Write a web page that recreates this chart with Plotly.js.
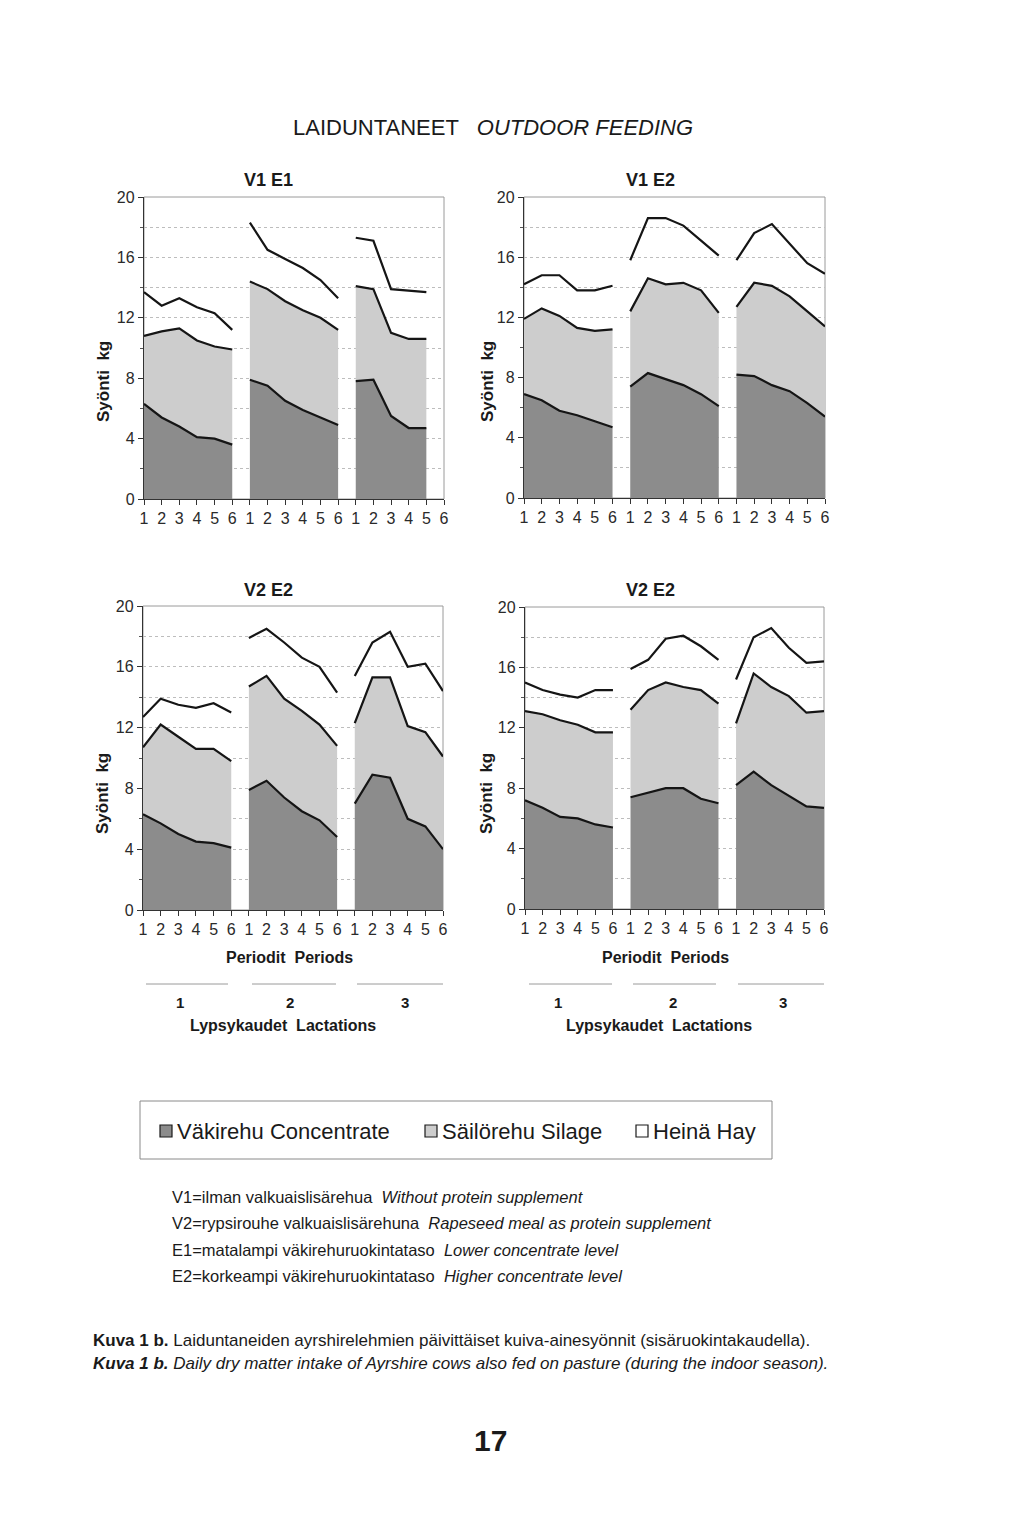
<!DOCTYPE html>
<html>
<head>
<meta charset="utf-8">
<script src="https://cdn.plot.ly/plotly-3.0.1.min.js"></script>
<style>
  html, body { margin: 0; padding: 0; background: #ffffff; }
  #chart { width: 1024px; height: 1515px; }
</style>
</head>
<body>
<div id="chart"></div>
<script>
// ---------------- DATA ----------------
// x axis: 3 lactations x 6 periods
const periodLabels = ['1','2','3','4','5','6','1','2','3','4','5','6','1','2','3','4','5','6'];
const lactationLabels = ['1', '2', '3'];
const panelTitles = ['V1 E1', 'V1 E2', 'V2 E2', 'V2 E2'];
const seriesNames = ['Väkirehu Concentrate', 'Säilörehu Silage', 'Heinä Hay'];

// Daily dry matter intake, kg (component amounts, stacked: concentrate + silage + hay)
const v1e1_concentrate = [6.3, 5.4, 4.8, 4.1, 4.0, 3.6,  7.9, 7.5, 6.5, 5.9, 5.4, 4.9,  7.8, 7.9, 5.5, 4.7, 4.7, null];
const v1e1_silage      = [4.5, 5.7, 6.5, 6.4, 6.1, 6.3,  6.5, 6.4, 6.6, 6.6, 6.6, 6.3,  6.3, 6.0, 5.5, 5.9, 5.9, null];
const v1e1_hay         = [2.9, 1.7, 2.0, 2.2, 2.2, 1.3,  3.9, 2.6, 2.8, 2.8, 2.5, 2.1,  3.2, 3.2, 2.9, 3.2, 3.1, null];

const v1e2_concentrate = [6.9, 6.5, 5.8, 5.5, 5.1, 4.7,  7.4, 8.3, 7.9, 7.5, 6.9, 6.1,  8.2, 8.1, 7.5, 7.1, 6.3, 5.4];
const v1e2_silage      = [5.0, 6.1, 6.3, 5.8, 6.0, 6.5,  5.0, 6.3, 6.3, 6.8, 6.9, 6.2,  4.5, 6.2, 6.6, 6.3, 6.1, 6.0];
const v1e2_hay         = [2.3, 2.2, 2.7, 2.5, 2.7, 2.9,  3.4, 4.0, 4.4, 3.8, 3.3, 3.8,  3.1, 3.3, 4.1, 3.5, 3.2, 3.5];

const v2e2a_concentrate = [6.3, 5.7, 5.0, 4.5, 4.4, 4.1,  7.9, 8.5, 7.4, 6.5, 5.9, 4.8,  7.0, 8.9, 8.7, 6.0, 5.5, 4.0];
const v2e2a_silage      = [4.4, 6.5, 6.4, 6.1, 6.2, 5.7,  6.8, 6.9, 6.5, 6.6, 6.3, 6.0,  5.3, 6.4, 6.6, 6.1, 6.2, 6.1];
const v2e2a_hay         = [2.0, 1.7, 2.1, 2.7, 3.0, 3.2,  3.2, 3.1, 3.7, 3.5, 3.8, 3.5,  3.1, 2.3, 3.0, 3.9, 4.5, 4.3];

const v2e2b_concentrate = [7.2, 6.7, 6.1, 6.0, 5.6, 5.4,  7.4, 7.7, 8.0, 8.0, 7.3, 7.0,  8.2, 9.1, 8.2, 7.5, 6.8, 6.7];
const v2e2b_silage      = [5.9, 6.2, 6.4, 6.2, 6.1, 6.3,  5.8, 6.8, 7.0, 6.7, 7.2, 6.6,  4.1, 6.5, 6.5, 6.6, 6.2, 6.4];
const v2e2b_hay         = [1.9, 1.6, 1.7, 1.8, 2.8, 2.8,  2.7, 2.0, 2.9, 3.4, 2.9, 2.9,  2.9, 2.4, 3.9, 3.2, 3.3, 3.3];

const panels = [
  [v1e1_concentrate, v1e1_silage, v1e1_hay],
  [v1e2_concentrate, v1e2_silage, v1e2_hay],
  [v2e2a_concentrate, v2e2a_silage, v2e2a_hay],
  [v2e2b_concentrate, v2e2b_silage, v2e2b_hay]
];

// ---------------- STYLE / LAYOUT ----------------
const W = 1024, H = 1515;
const FONT = 'Liberation Sans, Arial, Helvetica, sans-serif';
const fillColors = ['#8c8c8c', '#cdcdcd', 'rgba(255,255,255,0)'];
const px = v => v / W;
const py = v => 1 - v / H;

// plot areas in pixels [left, right, top, bottom]
const boxes = [
  [144, 444, 197, 499],
  [524, 825, 197, 498],
  [143, 443, 606, 910],
  [525, 824, 607, 909]
];

const traces = [];
panels.forEach((series, k) => {
  const ax = k === 0 ? '' : String(k + 1);
  for (let L = 0; L < 3; L++) {
    series.forEach((vals, s) => {
      const xs = [], ys = [];
      for (let i = L * 6; i < L * 6 + 6; i++) {
        if (vals[i] !== null && vals[i] !== undefined) { xs.push(i); ys.push(vals[i]); }
      }
      traces.push({
        type: 'scatter', mode: 'lines',
        x: xs, y: ys,
        xaxis: 'x' + ax, yaxis: 'y' + ax,
        stackgroup: 'p' + k + 'l' + L,
        fillcolor: fillColors[s],
        line: { color: '#151515', width: 2.2 },
        name: seriesNames[s],
        showlegend: false,
        hoverinfo: 'skip'
      });
    });
  }
});

const layout = {
  width: W, height: H,
  margin: { l: 0, r: 0, t: 0, b: 0 },
  paper_bgcolor: '#ffffff',
  plot_bgcolor: '#ffffff',
  font: { family: FONT, color: '#222' },
  showlegend: false,
  shapes: [],
  annotations: []
};

boxes.forEach((b, k) => {
  const ax = k === 0 ? '' : String(k + 1);
  layout['xaxis' + ax] = {
    domain: [px(b[0]), px(b[1])],
    anchor: 'y' + ax,
    range: [0, 17],
    tickmode: 'array',
    tickvals: periodLabels.map((_, i) => i),
    ticktext: periodLabels,
    ticks: 'outside', ticklen: 5, tickcolor: '#333', tickwidth: 1,
    tickfont: { size: 16, color: '#2a2a2a', family: FONT },
    showline: true, linecolor: '#333', linewidth: 1.2,
    showgrid: false, zeroline: false, fixedrange: true
  };
  layout['yaxis' + ax] = {
    domain: [py(b[3]), py(b[2])],
    anchor: 'x' + ax,
    range: [0, 20],
    tickvals: [0, 4, 8, 12, 16, 20],
    ticks: 'outside', ticklen: 5, tickcolor: '#333',
    tickfont: { size: 16, color: '#2a2a2a', family: FONT },
    showline: true, linecolor: '#333', linewidth: 1.2,
    showgrid: true, gridcolor: '#bdbdbd', griddash: 'dot', gridwidth: 1,
    minor: { tickvals: [2, 6, 10, 14, 18], ticks: 'outside', ticklen: 3, tickcolor: '#555',
             showgrid: true, gridcolor: '#bdbdbd', griddash: 'dot', gridwidth: 1 },
    zeroline: false, fixedrange: true
  };
  // light frame on top/right
  layout.shapes.push({
    type: 'rect', xref: 'paper', yref: 'paper', layer: 'below',
    x0: px(b[0]), x1: px(b[1]), y0: py(b[3]), y1: py(b[2]),
    line: { color: '#9a9a9a', width: 1 }
  });
});

function ann(text, x, y, size, opts) {
  layout.annotations.push(Object.assign({
    text: text, x: px(x), y: py(y), xref: 'paper', yref: 'paper',
    showarrow: false, xanchor: 'center', yanchor: 'middle',
    font: { size: size, color: '#1a1a1a', family: FONT }
  }, opts || {}));
}

// main title
ann('LAIDUNTANEET   <i>OUTDOOR FEEDING</i>', 493, 127, 22);
// panel titles
ann('<b>' + panelTitles[0] + '</b>', 268, 180, 18);
ann('<b>' + panelTitles[1] + '</b>', 650, 180, 18);
ann('<b>' + panelTitles[2] + '</b>', 268, 590, 18);
ann('<b>' + panelTitles[3] + '</b>', 650, 590, 18);
// y axis titles
[[103, 382], [487, 382], [103, 794], [487, 794]].forEach(p => ann('<b>Syönti  kg</b>', p[0], p[1], 17, { textangle: -90 }));

// x axis annotations under bottom panels
[[289, [146, 228, 252, 336, 357, 443], [180, 290, 405], 283],
 [665, [529, 612, 633, 716, 738, 824], [558, 673, 783], 659]].forEach(g => {
  ann('<b>Periodit  Periods</b>', g[0], 957, 16);
  for (let i = 0; i < 3; i++) {
    layout.shapes.push({ type: 'line', xref: 'paper', yref: 'paper',
      x0: px(g[1][2 * i]), x1: px(g[1][2 * i + 1]), y0: py(984), y1: py(984),
      line: { color: '#9a9a9a', width: 1 } });
    ann('<b>' + lactationLabels[i] + '</b>', g[2][i], 1002, 15);
  }
  ann('<b>Lypsykaudet  Lactations</b>', g[3], 1025, 16);
});

// legend box
layout.shapes.push({ type: 'rect', xref: 'paper', yref: 'paper',
  x0: px(140), x1: px(772), y0: py(1159), y1: py(1101),
  line: { color: '#8a8a8a', width: 1 } });
[[160, 0], [425, 1], [636, 2]].forEach(it => {
  layout.shapes.push({ type: 'rect', xref: 'paper', yref: 'paper',
    x0: px(it[0]), x1: px(it[0] + 12), y0: py(1137), y1: py(1125),
    fillcolor: it[1] === 2 ? '#ffffff' : fillColors[it[1]],
    line: { color: '#1a1a1a', width: 1.2 } });
  ann(seriesNames[it[1]], it[0] + 15, 1131, 22, { xanchor: 'left' });
});

// footnotes
const notes = [
  'V1=ilman valkuaislisärehua  <i>Without protein supplement</i>',
  'V2=rypsirouhe valkuaislisärehuna  <i>Rapeseed meal as protein supplement</i>',
  'E1=matalampi väkirehuruokintataso  <i>Lower concentrate level</i>',
  'E2=korkeampi väkirehuruokintataso  <i>Higher concentrate level</i>'
];
notes.forEach((t, i) => ann(t, 170, 1197 + i * 26.3, 16.5, { xanchor: 'left' }));

// caption
ann('<b>Kuva 1 b.</b> Laiduntaneiden ayrshirelehmien päivittäiset kuiva-ainesyönnit (sisäruokintakaudella).', 91, 1340, 17, { xanchor: 'left' });
ann('<b><i>Kuva 1 b.</i></b><i> Daily dry matter intake of Ayrshire cows also fed on pasture (during the indoor season).</i>', 91, 1363, 17, { xanchor: 'left' });

// page number
ann('<b>17</b>', 490, 1440, 30);

Plotly.newPlot('chart', traces, layout, { staticPlot: true, displayModeBar: false });
</script>
</body>
</html>
